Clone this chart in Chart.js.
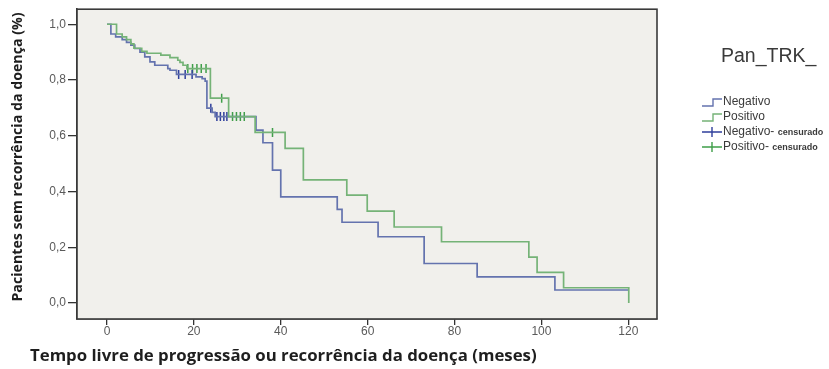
<!DOCTYPE html>
<html>
<head>
<meta charset="utf-8">
<title>Pan_TRK – sobrevida livre de progressão</title>
<script src="https://cdn.jsdelivr.net/npm/chart.js@4/dist/chart.umd.min.js"></script>
<style>
  html, body { margin: 0; padding: 0; background: #ffffff; }
  #wrap { position: relative; width: 829px; height: 369px; }
  canvas { display: block; }
</style>
</head>
<body>
<div id="wrap"><canvas id="km" width="829" height="369"></canvas></div>
<script>
// Curvas de Kaplan–Meier por grupo Pan_TRK (tempo em meses, proporção sem recorrência)
const monthTicks = [0, 20, 40, 60, 80, 100, 120];
const survTicks = [0, 0.2, 0.4, 0.6, 0.8, 1.0];

// Negativo: tempos de evento e sobrevida após cada evento
const negTimes = [0, 0.9, 2.0, 3.5, 4.5, 5.5, 6.4, 7.6, 8.7, 9.9, 11.0, 14.0, 14.5, 16.0, 20.5, 21.9, 22.6, 23.0, 24.2, 24.9, 34.3, 35.9, 38.1, 40.0, 53.0, 54.1, 62.4, 73.0, 85.2, 103.1, 120.1];
const negSurv  = [1.0, 0.965, 0.955, 0.945, 0.935, 0.925, 0.913, 0.900, 0.883, 0.865, 0.853, 0.841, 0.835, 0.820, 0.811, 0.805, 0.796, 0.699, 0.684, 0.669, 0.620, 0.575, 0.477, 0.381, 0.336, 0.290, 0.238, 0.142, 0.094, 0.047, 0.047];

// Positivo: tempos de evento e sobrevida após cada evento
const posTimes = [0, 2.2, 3.5, 4.5, 5.5, 6.2, 8.0, 9.2, 12.4, 14.5, 16.3, 16.8, 17.5, 18.4, 23.8, 28.0, 34.1, 41.0, 45.2, 55.2, 59.9, 66.1, 77.0, 97.1, 99.0, 105.1, 120.1];
const posSurv  = [1.0, 0.965, 0.955, 0.945, 0.930, 0.914, 0.903, 0.896, 0.889, 0.880, 0.871, 0.863, 0.853, 0.841, 0.735, 0.669, 0.612, 0.555, 0.442, 0.387, 0.330, 0.273, 0.220, 0.165, 0.110, 0.055, 0.0];

// Tempos censurados (marcados com +)
const negCensored = [16.5, 18.0, 19.6, 23.9, 25.3, 26.1, 26.9, 27.6];
const posCensored = [18.6, 19.7, 20.7, 21.7, 22.8, 26.4, 28.9, 29.8, 30.7, 31.6, 38.1];

const groupNames = ['Negativo', 'Positivo'];
const legendTitle = 'Pan_TRK_';
const censorSuffix = 'censurado';
const xTitle = 'Tempo livre de progressão ou recorrência da doença (meses)';
const yTitle = 'Pacientes sem recorrência da doença (%)';

const BLUE_LINE = '#6473ae';
const GREEN_LINE = '#75b377';
const BLUE_MARK = '#2f3f9c';
const GREEN_MARK = '#3f9e49';

function survivalAt(times, surv, t) {
  let v = surv[0];
  for (let i = 0; i < times.length; i++) {
    if (times[i] <= t) v = surv[i]; else break;
  }
  return v;
}

const toPoints = (times, surv) => times.map((t, i) => ({ x: t, y: surv[i] }));
const toCensor = (cens, times, surv) => cens.map(t => ({ x: t, y: survivalAt(times, surv, t) }));

// Fundo da área do gráfico e moldura
const framePlugin = {
  id: 'frame',
  beforeDatasetsDraw(chart) {
    const { ctx, chartArea: a } = chart;
    ctx.save();
    ctx.fillStyle = '#f1f0ec';
    ctx.fillRect(a.left, a.top, a.right - a.left, a.bottom - a.top);
    ctx.restore();
  },
  afterDatasetsDraw(chart) {
    const { ctx, chartArea: a } = chart;
    ctx.save();
    ctx.strokeStyle = '#3a3a3a';
    ctx.lineWidth = 1.6;
    ctx.strokeRect(a.left, a.top, a.right - a.left, a.bottom - a.top);
    ctx.restore();
  }
};

// Títulos dos eixos e legenda
const textPlugin = {
  id: 'texts',
  afterDraw(chart) {
    const { ctx } = chart;
    ctx.save();
    ctx.fillStyle = '#1e1e1e';
    ctx.font = 'bold 16.8px "Open Sans", sans-serif';
    ctx.textAlign = 'left';
    ctx.textBaseline = 'middle';
    ctx.fillText(xTitle, 30, 356);

    ctx.save();
    ctx.translate(18, 157);
    ctx.rotate(-Math.PI / 2);
    ctx.textAlign = 'center';
    ctx.font = 'bold 14.2px "Open Sans", sans-serif';
    ctx.fillText(yTitle, 0, 0);
    ctx.restore();

    // legenda
    ctx.fillStyle = '#3a3a3a';
    ctx.font = '19.5px "Liberation Sans", Arial, sans-serif';
    ctx.textAlign = 'left';
    ctx.fillText(legendTitle, 721, 57);

    const x0 = 702, x1 = 722, xt = 723;
    const rows = [
      { y: 102, kind: 'step', color: BLUE_LINE, label: groupNames[0] },
      { y: 117, kind: 'step', color: GREEN_LINE, label: groupNames[1] },
      { y: 132, kind: 'mark', color: BLUE_MARK, label: groupNames[0] },
      { y: 147, kind: 'mark', color: GREEN_MARK, label: groupNames[1] }
    ];
    rows.forEach(r => {
      ctx.strokeStyle = r.color;
      ctx.lineWidth = 1.4;
      ctx.beginPath();
      if (r.kind === 'step') {
        ctx.moveTo(x0, r.y + 4);
        ctx.lineTo(x0 + 11, r.y + 4);
        ctx.lineTo(x0 + 11, r.y - 3);
        ctx.lineTo(x1, r.y - 3);
      } else {
        ctx.moveTo(x0, r.y);
        ctx.lineTo(x1, r.y);
        ctx.moveTo(x0 + 10, r.y - 5);
        ctx.lineTo(x0 + 10, r.y + 5);
      }
      ctx.stroke();
      ctx.fillStyle = '#3a3a3a';
      ctx.font = '12px "Liberation Sans", Arial, sans-serif';
      ctx.fillText(r.kind === 'mark' ? r.label + '- ' : r.label, xt, r.y);
      if (r.kind === 'mark') {
        const w = ctx.measureText(r.label + '- ').width;
        ctx.font = 'bold 9px "Liberation Sans", Arial, sans-serif';
        ctx.fillText(censorSuffix, xt + w, r.y + 1);
      }
    });
    ctx.restore();
  }
};

const censorStyle = color => ({
  showLine: false,
  pointStyle: 'line',
  rotation: 90,
  pointRadius: 4.5,
  pointBorderWidth: 1.5,
  borderColor: color,
  backgroundColor: color,
  pointHoverRadius: 0
});

new Chart(document.getElementById('km'), {
  type: 'scatter',
  data: {
    datasets: [
      {
        label: groupNames[1],
        data: toPoints(posTimes, posSurv),
        showLine: true,
        stepped: 'before',
        borderColor: GREEN_LINE,
        borderWidth: 1.7,
        pointRadius: 0
      },
      {
        label: groupNames[0],
        data: toPoints(negTimes, negSurv),
        showLine: true,
        stepped: 'before',
        borderColor: BLUE_LINE,
        borderWidth: 1.7,
        pointRadius: 0
      },
      Object.assign({ label: groupNames[0] + '- ' + censorSuffix, data: toCensor(negCensored, negTimes, negSurv) }, censorStyle(BLUE_MARK)),
      Object.assign({ label: groupNames[1] + '- ' + censorSuffix, data: toCensor(posCensored, posTimes, posSurv) }, censorStyle(GREEN_MARK))
    ]
  },
  options: {
    responsive: false,
    animation: false,
    devicePixelRatio: 1,
    layout: { padding: { top: 9, right: 172, left: 0, bottom: 0 } },
    plugins: { legend: { display: false }, tooltip: { enabled: false } },
    scales: {
      x: {
        type: 'linear',
        min: -6.9,
        max: 126.6,
        afterBuildTicks: axis => { axis.ticks = monthTicks.map(v => ({ value: v })); },
        afterFit: s => { s.height = 50; },
        grid: { drawOnChartArea: false, drawTicks: true, tickLength: 6, color: '#333', lineWidth: 1.3 },
        border: { display: true, color: '#333', width: 1.6 },
        ticks: { color: '#5a5a5a', padding: -1, font: { family: '"Liberation Sans", Arial, sans-serif', size: 12 }, maxRotation: 0 }
      },
      y: {
        type: 'linear',
        min: -0.057,
        max: 1.054,
        afterBuildTicks: axis => { axis.ticks = survTicks.map(v => ({ value: v })); },
        afterFit: s => { s.width = 77; },
        grid: { drawOnChartArea: false, drawTicks: true, tickLength: 9, color: '#333', lineWidth: 1.3 },
        border: { display: true, color: '#333', width: 1.6 },
        ticks: {
          color: '#5a5a5a',
          padding: 2,
          font: { family: '"Liberation Sans", Arial, sans-serif', size: 12 },
          callback: v => v.toFixed(1).replace('.', ',')
        }
      }
    }
  },
  plugins: [framePlugin, textPlugin]
});
</script>
</body>
</html>
